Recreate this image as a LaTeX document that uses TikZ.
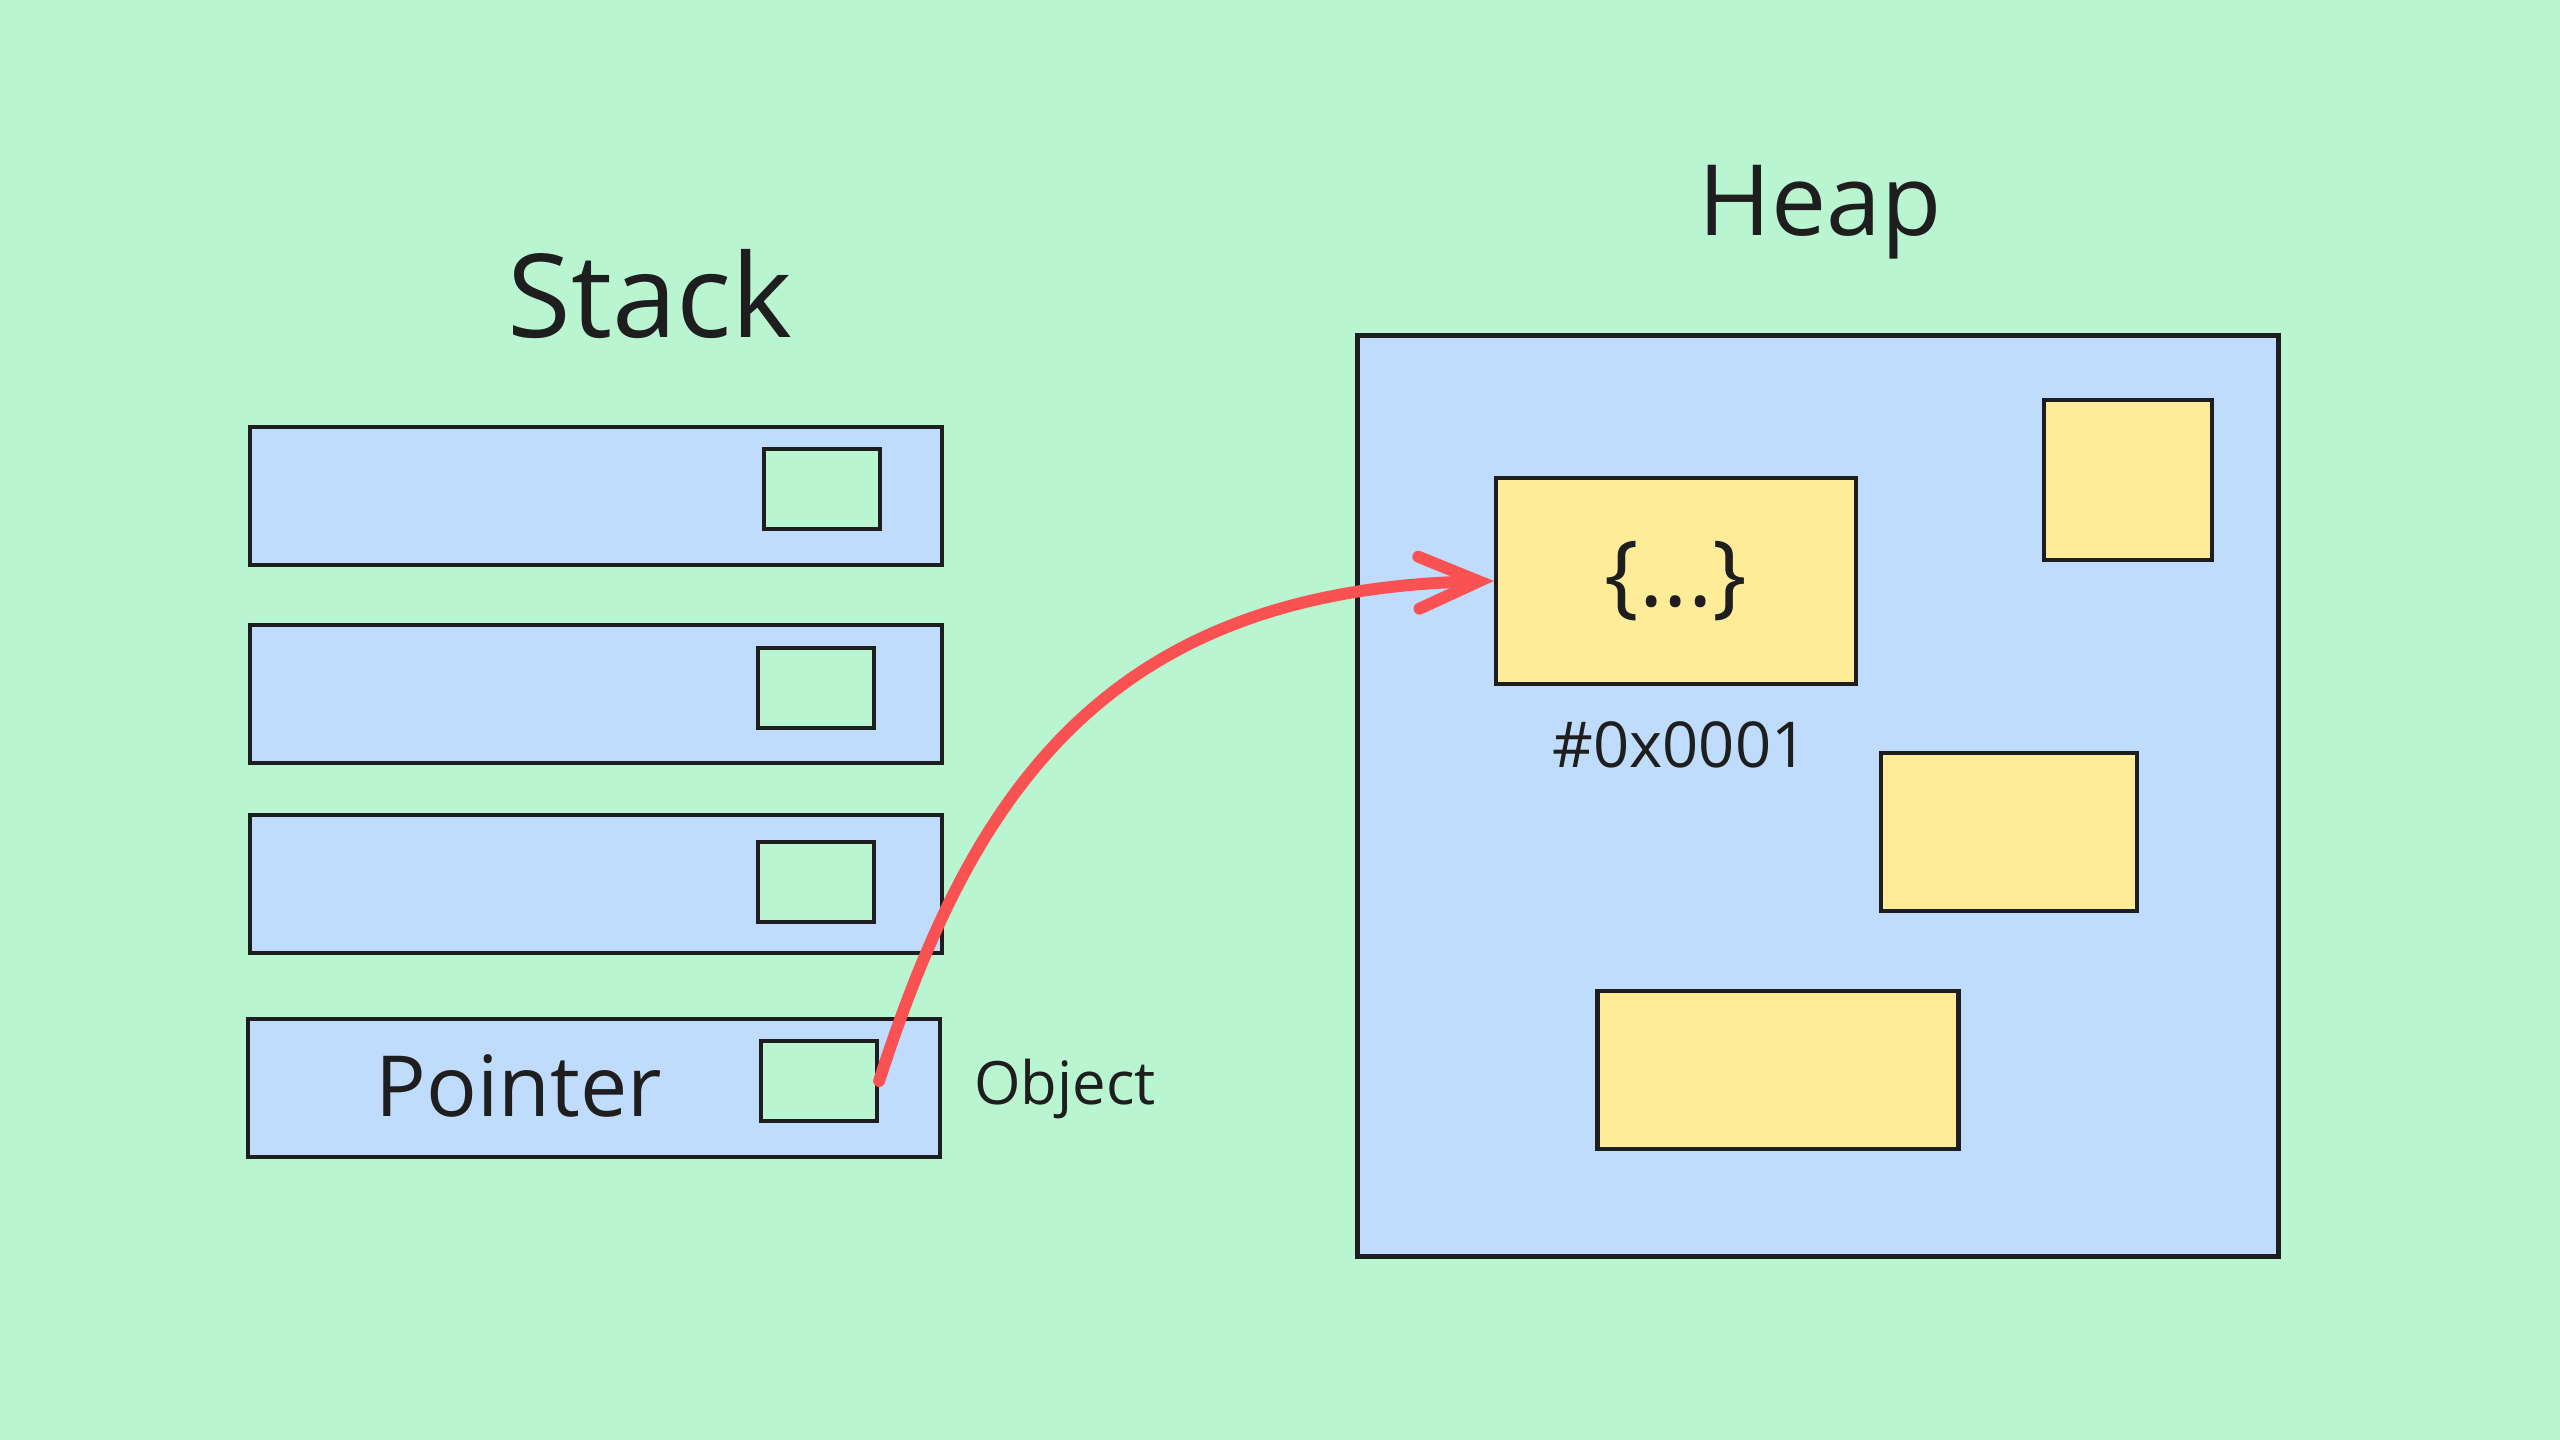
\documentclass[tikz,border=0pt]{standalone}
\usepackage{fontspec}
\setmainfont{Open Sans}
\usetikzlibrary{arrows.meta}
\definecolor{bggreen}{RGB}{185,245,208}
\definecolor{memblue}{RGB}{191,220,253}
\definecolor{objyellow}{RGB}{255,236,153}
\definecolor{refred}{RGB}{250,82,82}
\definecolor{ink}{RGB}{30,30,30}

\begin{document}
\begin{tikzpicture}[x=0.1mm, y=-0.1mm,
    frame/.style={draw=ink, line width=1.2pt, fill=memblue, minimum width=69.2mm, minimum height=13.8mm, inner sep=0pt},
    slot/.style={draw=ink, line width=1.2pt, fill=bggreen, minimum width=11.6mm, minimum height=8mm, inner sep=0pt},
    block/.style={draw=ink, line width=1.2pt, fill=objyellow, inner sep=0pt},
    title/.style={text=ink, font=\fontsize{33}{38}\selectfont},
    label/.style={text=ink, font=\fontsize{18}{22}\selectfont},
    ref/.style={draw=refred, line width=3.4pt, line cap=round, -{Straight Barb[length=6mm, width=5.2mm, line cap=round]}}]
      \fill[bggreen] (0,0) rectangle (2560,1440);
      \node[title] (stacktitle) at (650,294) {Stack};
      \node[title, font=\fontsize{28}{32}\selectfont] (heaptitle) at (1820,212) {Heap};
      \node[frame] (frame1) at (596,496) {};
      \node[frame] (frame2) at (596,694) {};
      \node[frame] (frame3) at (596,884) {};
      \node[frame] (frame4) at (594,1088) {};
      \node[slot] (slot1) at (822,489) {};
      \node[slot] (slot2) at (816,688) {};
      \node[slot] (slot3) at (816,882) {};
      \node[slot] (slot4) at (819,1081) {};
      \node[title, font=\fontsize{24}{28}\selectfont] (pointer) at (519,1086) {Pointer};
      \node[label, font=\fontsize{17}{20}\selectfont, anchor=west] (objlabel) at (962,1089) {Object};
      \node[draw=ink, line width=1.2pt, fill=memblue, minimum size=92.1mm, inner sep=0pt] (heap) at (1818,796) {};
      \node[block, minimum width=36mm, minimum height=20.6mm, title, font=\fontsize{26}{30}\selectfont] (obj) at (1676,581) {\{...\}};
      \node[label] (addr) at (1680,745) {\#0x0001};
      \node[block, minimum width=16.8mm, minimum height=16mm] (blocka) at (2128,480) {};
      \node[block, minimum width=25.6mm, minimum height=15.8mm] (blockb) at (2009,832) {};
      \node[block, minimum width=36.1mm, minimum height=15.8mm] (blockc) at (1778,1070) {};
      \draw[ref] (slot4.east) .. controls (970,800) and (1100,590) .. (obj.west);
    \end{tikzpicture}
\end{document}
